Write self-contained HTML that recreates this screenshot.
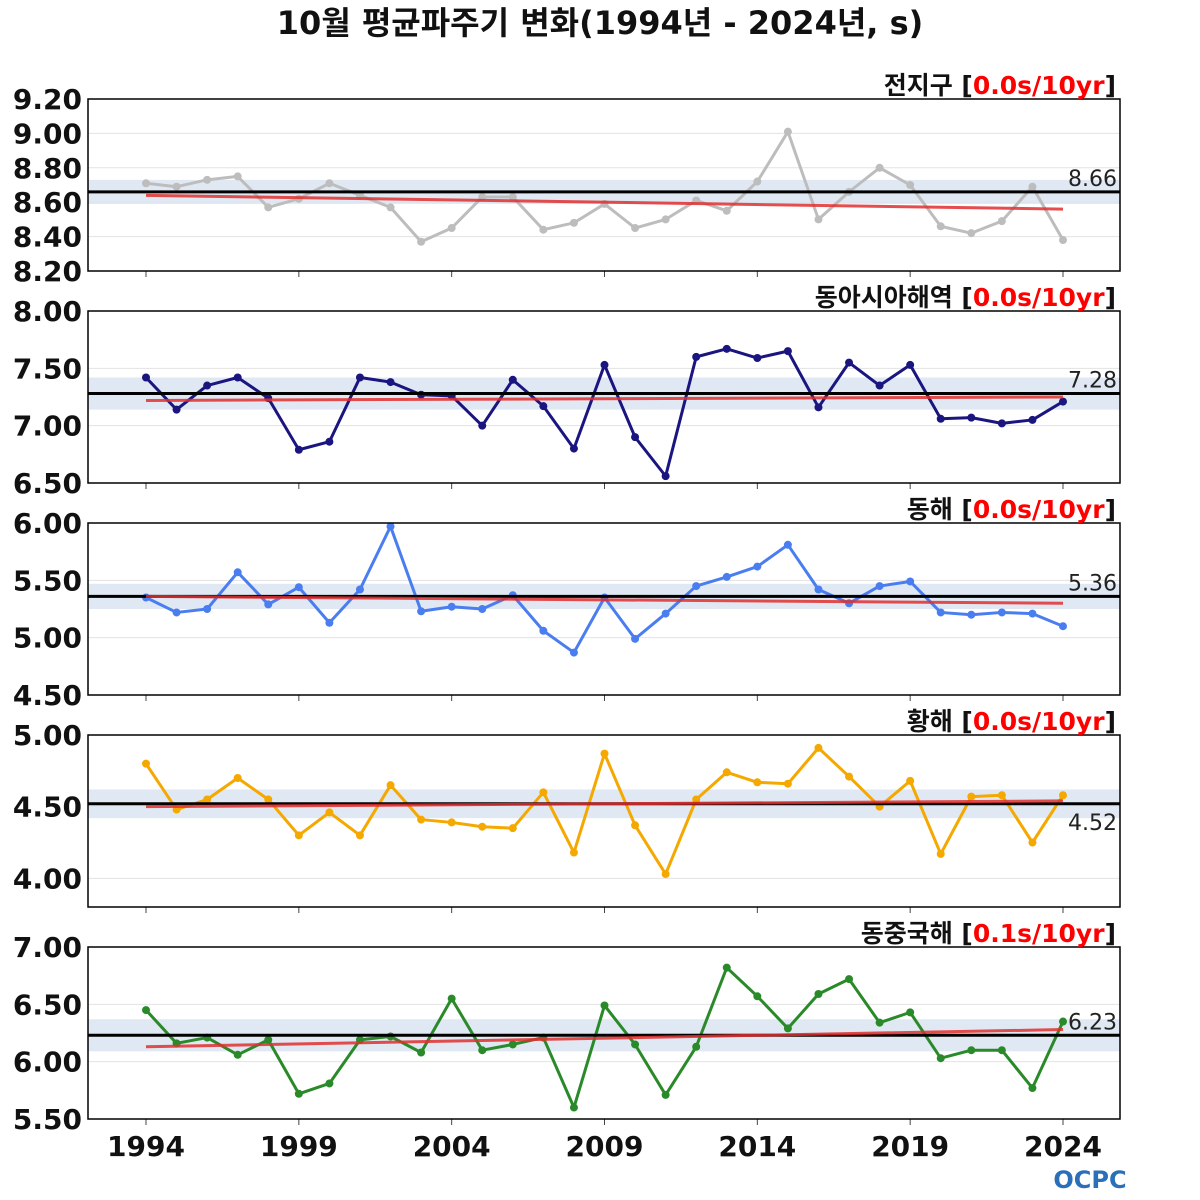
<!DOCTYPE html>
<html><head><meta charset="utf-8">
<style>
body{margin:0;background:#fff;}
svg{display:block;font-family:"DejaVu Sans","Noto Sans CJK KR",sans-serif;}
</style></head>
<body>
<svg id="chart" width="1200" height="1200" viewBox="0 0 1200 1200" xmlns="http://www.w3.org/2000/svg">
<text x="600" y="34" text-anchor="middle" font-size="32" font-weight="bold" fill="#111">10월 평균파주기 변화(1994년 - 2024년, s)</text>
<text x="1090" y="1188" text-anchor="middle" font-size="24" font-weight="bold" fill="#2a6fb8">OCPC</text>
</svg>
<script>
const years = [1994,1995,1996,1997,1998,1999,2000,2001,2002,2003,2004,2005,2006,2007,2008,2009,2010,2011,2012,2013,2014,2015,2016,2017,2018,2019,2020,2021,2022,2023,2024];
const globalVals = [8.71,8.69,8.73,8.75,8.57,8.62,8.71,8.64,8.57,8.37,8.45,8.63,8.63,8.44,8.48,8.59,8.45,8.50,8.61,8.55,8.72,9.01,8.50,8.66,8.80,8.70,8.46,8.42,8.49,8.69,8.38];
const eastAsiaVals = [7.42,7.14,7.35,7.42,7.24,6.79,6.86,7.42,7.38,7.27,7.26,7.00,7.40,7.17,6.80,7.53,6.90,6.56,7.60,7.67,7.59,7.65,7.16,7.55,7.35,7.53,7.06,7.07,7.02,7.05,7.21];
const eastSeaVals = [5.35,5.22,5.25,5.57,5.29,5.44,5.13,5.42,5.97,5.23,5.27,5.25,5.37,5.06,4.87,5.35,4.99,5.21,5.45,5.53,5.62,5.81,5.42,5.30,5.45,5.49,5.22,5.20,5.22,5.21,5.10];
const yellowSeaVals = [4.80,4.48,4.55,4.70,4.55,4.30,4.46,4.30,4.65,4.41,4.39,4.36,4.35,4.60,4.18,4.87,4.37,4.03,4.55,4.74,4.67,4.66,4.91,4.71,4.50,4.68,4.17,4.57,4.58,4.25,4.58];
const ecsVals = [6.45,6.16,6.21,6.06,6.19,5.72,5.81,6.19,6.22,6.08,6.55,6.10,6.15,6.21,5.60,6.49,6.15,5.71,6.13,6.82,6.57,6.29,6.59,6.72,6.34,6.43,6.03,6.10,6.10,5.77,6.35];
const panelNames = ["전지구","동아시아해역","동해","황해","동중국해"];
const trendLabels = ["0.0s/10yr","0.0s/10yr","0.0s/10yr","0.0s/10yr","0.1s/10yr"];
const means = [8.66,7.28,5.36,4.52,6.23];
const bands = [0.07,0.14,0.11,0.10,0.14];
const trendStart = [8.64,7.22,5.36,4.50,6.13];
const trendEnd = [8.56,7.25,5.30,4.54,6.28];
const yMins = [8.2,6.5,4.5,3.8,5.5];
const yMaxs = [9.2,8.0,6.0,5.0,7.0];
const yTicks = [[8.2,8.4,8.6,8.8,9.0,9.2],[6.5,7.0,7.5,8.0],[4.5,5.0,5.5,6.0],[4.0,4.5,5.0],[5.5,6.0,6.5,7.0]];
const xTicks = [1994,1999,2004,2009,2014,2019,2024];
const series = [globalVals,eastAsiaVals,eastSeaVals,yellowSeaVals,ecsVals];
const colors = ["#bdbdbd","#1b1580","#4a7ef0","#f5a800","#2a8a2a"];
const slugs = ["global","east-asia","east-sea","yellow-sea","east-china-sea"];

const NS="http://www.w3.org/2000/svg";
const svg=document.getElementById('chart');
const L=88,R=1120,H=172;
const tops=[99,311,523,735,947];
function xs(yr){return 146+(yr-1994)*(1063-146)/30;}
function mk(tag,attrs,parent){const e=document.createElementNS(NS,tag);for(const k in attrs)e.setAttribute(k,attrs[k]);(parent||svg).appendChild(e);return e;}

for(let p=0;p<5;p++){
  const top=tops[p],bot=top+H;
  const ys=v=>bot-(v-yMins[p])/(yMaxs[p]-yMins[p])*H;
  const g=mk('g',{});
  
  
  yTicks[p].forEach(t=>{
    const y=ys(t);
    const gl=mk('line',{x1:L,x2:R,y1:y,y2:y,stroke:'#e3e3e3','stroke-width':1},g);
    
    
    const tl=mk('text',{x:82,y:y+10,'text-anchor':'end','font-size':28,'font-weight':'bold',fill:'#111'},g);
    tl.textContent=t.toFixed(2);
    
    
  });
  const b=mk('rect',{x:L,width:R-L,y:ys(means[p]+bands[p]),height:ys(means[p]-bands[p])-ys(means[p]+bands[p]),fill:'#dbe5f1',opacity:0.85},g);
  
  
  xTicks.forEach(yr=>{
    const t=mk('line',{x1:xs(yr),x2:xs(yr),y1:bot,y2:bot+6,stroke:'#444','stroke-width':1},g);
    
    
  });
  const vals=series[p];
  const pts=vals.map((v,i)=>xs(years[i])+','+ys(v)).join(' ');
  const pl=mk('polyline',{points:pts,fill:'none',stroke:colors[p],'stroke-width':3,'stroke-linejoin':'round'},g);
  
  
  vals.forEach((v,i)=>{
    const c=mk('circle',{cx:xs(years[i]),cy:ys(v),r:4,fill:colors[p]},g);
    
    
  });
  const ml=mk('line',{x1:L,x2:R,y1:ys(means[p]),y2:ys(means[p]),stroke:'#000','stroke-width':3},g);
  
  
  const tr=mk('line',{x1:xs(1994),x2:xs(2024),y1:ys(trendStart[p]),y2:ys(trendEnd[p]),stroke:'#e03030','stroke-width':3,opacity:0.85},g);
  
  
  const below=(p===3);
  const mlab=mk('text',{x:1117,y:below?ys(means[p])+26:ys(means[p])-6,'text-anchor':'end','font-size':22,fill:'#222'},g);
  mlab.textContent=means[p].toFixed(2);
  
  
  const fr=mk('rect',{x:L,y:top,width:R-L,height:H,fill:'none',stroke:'#000','stroke-width':1.5},g);
  
  
  const tt=mk('text',{x:1116,y:top-5,'text-anchor':'end','font-size':25,'font-weight':'bold',fill:'#111'},g);
  
  
  const s1=mk('tspan',{},tt);s1.textContent=panelNames[p]+' [';
  const s2=mk('tspan',{fill:'#ff0000'},tt);s2.textContent=trendLabels[p];
  const s3=mk('tspan',{},tt);s3.textContent=']';
}
xTicks.forEach(yr=>{
  const t=mk('text',{x:xs(yr),y:1156,'text-anchor':'middle','font-size':28,'font-weight':'bold',fill:'#111'});
  t.textContent=yr;
  
  
});
</script>
</body></html>
